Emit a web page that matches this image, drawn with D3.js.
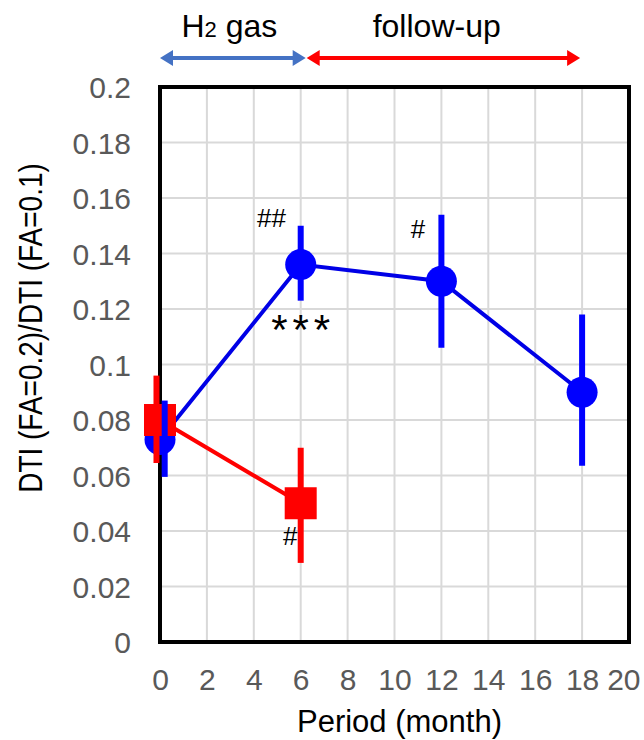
<!DOCTYPE html>
<meta charset="utf-8">
<style>
body { margin: 0; background: #fff; }
svg text { font-family: "Liberation Sans", Arial, sans-serif; }
.tick text { fill: #595959; }
.grid line { stroke: #d9d9d9; stroke-width: 2; }
</style>
<body>
<script src="https://cdn.jsdelivr.net/npm/d3@7"></script>
<script>

// months
var h2Months = [0, 6, 12, 18];
var h2Mean = [0.073, 0.136, 0.130, 0.090];
var h2Low  = [0.0595, 0.123, 0.106, 0.0635];
var h2High = [0.087, 0.150, 0.154, 0.118];
var h2BarX = [0.2, 6, 12, 18];

var ctlMonths = [0, 6];
var ctlMean = [0.080, 0.050];
var ctlLow  = [0.0645, 0.0285];
var ctlHigh = [0.096, 0.070];
var ctlBarX = [-0.15, 6];

var xTicks = [0, 2, 4, 6, 8, 10, 12, 14, 16, 18, 20];
var yTicks = [0, 0.02, 0.04, 0.06, 0.08, 0.1, 0.12, 0.14, 0.16, 0.18, 0.2];

var W = 644, H = 740;
var margin = {top: 87, right: 15, bottom: 98, left: 160};
var width = W - margin.left - margin.right,
    height = H - margin.top - margin.bottom;

var svg = d3.select("body").append("svg")
    .attr("width", W)
    .attr("height", H);

var g = svg.append("g")
    .attr("transform", "translate(" + margin.left + "," + margin.top + ")");

var x = d3.scaleLinear().domain([0, 20]).range([0, width]);
var y = d3.scaleLinear().domain([0, 0.2]).range([height, 0]);

// gridlines
g.append("g").attr("class", "grid")
  .selectAll("line").data(xTicks).enter().append("line")
    .attr("x1", function(d) { return x(d); })
    .attr("x2", function(d) { return x(d); })
    .attr("y1", 0).attr("y2", height);
g.append("g").attr("class", "grid")
  .selectAll("line").data(yTicks).enter().append("line")
    .attr("y1", function(d) { return y(d); })
    .attr("y2", function(d) { return y(d); })
    .attr("x1", 0).attr("x2", width);

// axes (labels only, frame drawn separately)
var xAxis = g.append("g")
    .attr("transform", "translate(0," + height + ")")
    .call(d3.axisBottom(x).tickValues(xTicks).tickSize(0).tickPadding(27).tickFormat(d3.format("d")));
var yAxis = g.append("g")
    .call(d3.axisLeft(y).tickValues(yTicks).tickSize(0).tickPadding(29)
      .tickFormat(function(d) { return d === 0 ? "0" : String(+d.toFixed(2)); }));
xAxis.select(".domain").remove();
yAxis.select(".domain").remove();
g.selectAll(".tick text").style("font-size", "30px");
yAxis.selectAll(".tick text").attr("dy", "0.36em");
// keep the last label inside the page
xAxis.selectAll(".tick text").filter(function(d) { return d === 20; })
    .attr("text-anchor", "end").attr("x", 11);

g.append("rect")
    .attr("width", width).attr("height", height)
    .attr("fill", "none").attr("stroke", "#000").attr("stroke-width", 4);

// H2 series line and markers
var line = d3.line()
    .x(function(d) { return x(d[0]); })
    .y(function(d) { return y(d[1]); });

g.append("path")
    .datum(h2Months.map(function(m, i) { return [m, h2Mean[i]]; }))
    .attr("d", line)
    .attr("fill", "none").attr("stroke", "#0000e6").attr("stroke-width", 4);

g.selectAll(".h2dot").data(h2Months).enter().append("circle")
    .attr("class", "h2dot")
    .attr("cx", function(d) { return x(d); })
    .attr("cy", function(d, i) { return y(h2Mean[i]); })
    .attr("r", 15.5)
    .attr("fill", "#0000ff");

// control series
g.append("path")
    .datum(ctlMonths.map(function(m, i) { return [m, ctlMean[i]]; }))
    .attr("d", line)
    .attr("fill", "none").attr("stroke", "#ff0000").attr("stroke-width", 4);

g.selectAll(".ctlbar").data(ctlBarX).enter().append("line")
    .attr("class", "ctlbar")
    .attr("x1", function(d) { return x(d); })
    .attr("x2", function(d) { return x(d); })
    .attr("y1", function(d, i) { return y(ctlLow[i]); })
    .attr("y2", function(d, i) { return y(ctlHigh[i]); })
    .attr("stroke", "#ff0000").attr("stroke-width", 6);

g.selectAll(".ctlsq").data(ctlMonths).enter().append("rect")
    .attr("class", "ctlsq")
    .attr("x", function(d) { return x(d) - 16; })
    .attr("y", function(d, i) { return y(ctlMean[i]) - 16; })
    .attr("width", 32).attr("height", 32)
    .attr("fill", "#ff0000");

g.selectAll(".h2bar").data(h2BarX).enter().append("line")
    .attr("class", "h2bar")
    .attr("x1", function(d) { return x(d); })
    .attr("x2", function(d) { return x(d); })
    .attr("y1", function(d, i) { return y(h2Low[i]); })
    .attr("y2", function(d, i) { return y(h2High[i]); })
    .attr("stroke", "#0000ff").attr("stroke-width", 6);

// significance marks
function mark(txt, mx, my, size, spacing) {
  g.append("text")
    .attr("x", x(mx) + spacing / 2).attr("y", y(my))
    .attr("text-anchor", "middle")
    .style("font-size", size + "px")
    .style("letter-spacing", spacing + "px")
    .text(txt);
}
mark("##", 4.75, 0.1495, 26, 0);
mark("***", 6.0, 0.1075, 42, 5);
mark("#", 11.0, 0.1455, 26, 0);
mark("#", 5.55, 0.035, 26, 0);

// axis titles
svg.append("text")
    .attr("x", margin.left + width / 2 + 5).attr("y", 732)
    .attr("text-anchor", "middle")
    .style("font-size", "31px")
    .text("Period (month)");

svg.append("text")
    .attr("transform", "translate(42,328) rotate(-90) scale(1,1.2)")
    .attr("text-anchor", "middle")
    .style("font-size", "28px")
    .text("DTI (FA=0.2)/DTI (FA=0.1)");

// period arrows
function arrow(x0, x1, col) {
  var ay = 58, hl = 13, hw = 8;
  svg.append("line")
    .attr("x1", x0 + hl - 2).attr("x2", x1 - hl + 2)
    .attr("y1", ay).attr("y2", ay)
    .attr("stroke", col).attr("stroke-width", 4);
  svg.append("path")
    .attr("d", "M" + x0 + "," + ay + "L" + (x0 + hl) + "," + (ay - hw) + "L" + (x0 + hl) + "," + (ay + hw) + "Z")
    .attr("fill", col);
  svg.append("path")
    .attr("d", "M" + x1 + "," + ay + "L" + (x1 - hl) + "," + (ay - hw) + "L" + (x1 - hl) + "," + (ay + hw) + "Z")
    .attr("fill", col);
}
arrow(margin.left + x(0), margin.left + x(6) + 5, "#4472c4");
arrow(margin.left + x(6) + 6, margin.left + x(18) - 2, "#ff0000");

var h2lab = svg.append("text")
    .attr("x", margin.left + x(3) - 1).attr("y", 37)
    .attr("text-anchor", "middle")
    .style("font-size", "32px");
h2lab.append("tspan").text("H");
h2lab.append("tspan").style("font-size", "22px").text("2");
h2lab.append("tspan").text(" gas");

svg.append("text")
    .attr("x", margin.left + x(11.8)).attr("y", 37)
    .attr("text-anchor", "middle")
    .style("font-size", "32px")
    .text("follow-up");

</script>
</body>
